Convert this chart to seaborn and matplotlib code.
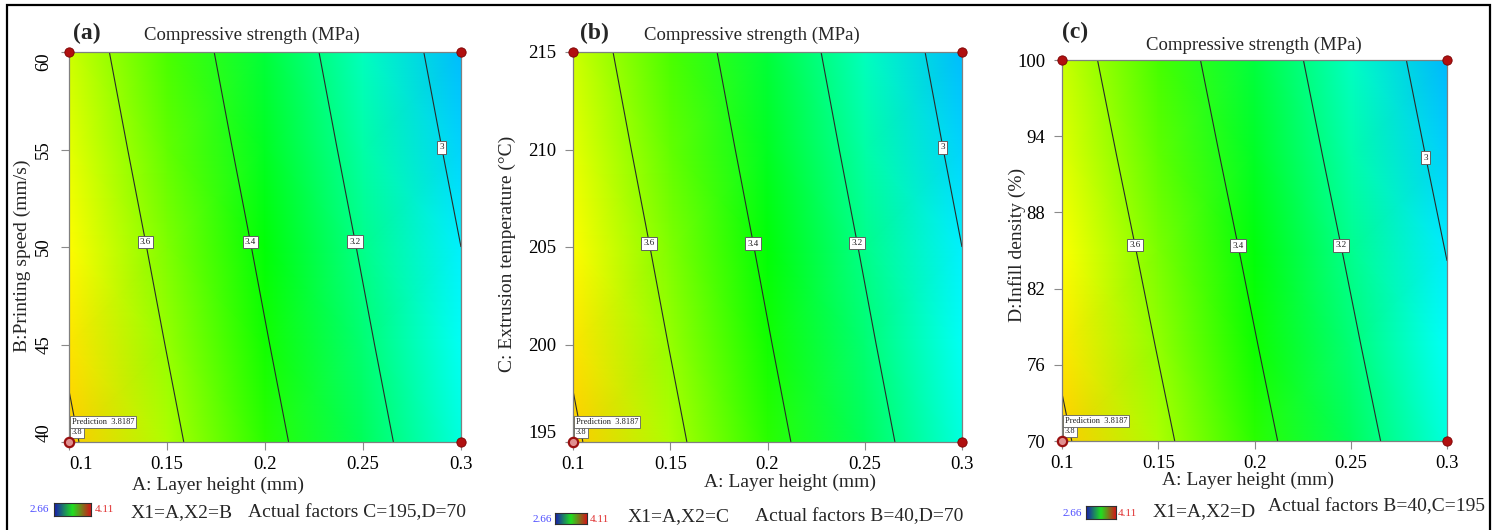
import numpy as np
import pandas as pd
import matplotlib
matplotlib.use("Agg")
import matplotlib.pyplot as plt
import seaborn as sns
from matplotlib.colors import LinearSegmentedColormap
from matplotlib.patches import Rectangle

# ---------------- data ----------------
layer_height = [0.10, 0.15, 0.20, 0.25, 0.30]          # A (mm)
printing_speed = [40, 45, 50, 55, 60]                  # B (mm/s)
extrusion_temp = [195, 200, 205, 210, 215]             # C (°C)
infill_density = [70, 77.5, 85, 92.5, 100]            # D (%)

# compressive strength (MPa); rows = second factor low->high, cols = layer height
strength_ab = [
    [3.819, 3.632, 3.445, 3.258, 3.071],
    [3.783, 3.596, 3.409, 3.222, 3.035],
    [3.748, 3.561, 3.374, 3.187, 3.000],
    [3.712, 3.525, 3.338, 3.151, 2.964],
    [3.677, 3.490, 3.303, 3.116, 2.929],
]
strength_ac = [
    [3.819, 3.632, 3.445, 3.258, 3.071],
    [3.783, 3.596, 3.409, 3.222, 3.035],
    [3.748, 3.561, 3.374, 3.187, 3.000],
    [3.712, 3.525, 3.338, 3.151, 2.964],
    [3.677, 3.490, 3.303, 3.116, 2.929],
]
strength_ad = [
    [3.819, 3.632, 3.445, 3.258, 3.071],
    [3.781, 3.594, 3.407, 3.220, 3.033],
    [3.744, 3.557, 3.370, 3.183, 2.996],
    [3.706, 3.519, 3.332, 3.145, 2.958],
    [3.669, 3.482, 3.295, 3.108, 2.921],
]

contour_levels = [3.0, 3.2, 3.4, 3.6]
contour_label_text = ["3", "3.2", "3.4", "3.6"]
corner_level = 3.8
prediction_value = 3.8187
scale_low, scale_high = 2.66, 4.11

x_ticks = [0.10, 0.15, 0.20, 0.25, 0.30]
x_tick_labels = ["0.1", "0.15", "0.2", "0.25", "0.3"]
yticks_b = [40, 45, 50, 55, 60]
yticks_c = [195, 200, 205, 210, 215]
yticks_d = [70, 76, 82, 88, 94, 100]

panel_tags = ["(a)", "(b)", "(c)"]
title_text = "Compressive strength (MPa)"
x_label = "A: Layer height (mm)"
y_labels = ["B:Printing speed (mm/s)", "C: Extrusion temperature (°C)", "D:Infill density (%)"]
factor_texts = ["X1=A,X2=B", "X1=A,X2=C", "X1=A,X2=D"]
actual_texts = ["Actual factors C=195,D=70", "Actual factors B=40,D=70", "Actual factors B=40,C=195"]

# ---------------- styling ----------------
sns.set_theme(style="white")
plt.rcParams["font.family"] = ["Liberation Serif", "DejaVu Serif"]

W, H = 1493, 530
fig = plt.figure(figsize=(W / 100, H / 100), dpi=100)
fig.patch.set_facecolor("white")


def fx(x):
    return x / W


def fy(y):
    return 1 - y / H


de_cmap = LinearSegmentedColormap.from_list(
    "designexpert",
    [(0.0, "#0000ff"), (0.25, "#00ffff"), (0.5, "#00ff00"), (0.75, "#ffff00"), (1.0, "#ff0000")],
)
legend_cmap = LinearSegmentedColormap.from_list("leg", ["#1a1ab0", "#20e020", "#d01818"])

panels = [
    dict(box=(69, 52, 461, 442), y=printing_speed, z=strength_ab, yt=yticks_b, rot=90,
         lab_pos=[(0.2898, 55.1), (0.2449, 50.26), (0.1929, 50.26), (0.1393, 50.26)],
         tag=(73, 33), title=(252, 35), xlab=(218, 485), ylab=(22, 256),
         bar=(54, 503, 91, 516), lo=(49, 510), hi=(95, 510),
         ftext=(131, 513), atext=(248, 513)),
    dict(box=(573, 52, 962, 442), y=extrusion_temp, z=strength_ac, yt=yticks_c, rot=0,
         lab_pos=[(0.290, 210.1), (0.241, 205.1), (0.1887, 205.1), (0.1349, 205.1)],
         tag=(580, 33), title=(752, 35), xlab=(790, 482), ylab=(507, 254),
         bar=(555, 513, 587, 524), lo=(552, 519), hi=(590, 519),
         ftext=(628, 517), atext=(755, 517)),
    dict(box=(1062, 60, 1447, 441), y=infill_density, z=strength_ad, yt=yticks_d, rot=0,
         lab_pos=[(0.2886, 92.3), (0.245, 85.4), (0.192, 85.4), (0.1374, 85.4)],
         tag=(1062, 32), title=(1254, 45), xlab=(1248, 480), ylab=(1017, 245),
         bar=(1086, 506, 1116, 519), lo=(1082, 513), hi=(1118, 513),
         ftext=(1153, 512), atext=(1268, 507)),
]

for i, p in enumerate(panels):
    l, t, r, b = p["box"]
    ax = fig.add_axes([fx(l), fy(b), (r - l) / W, (b - t) / H])
    X, Y = np.meshgrid(layer_height, p["y"])
    Z = np.array(p["z"])
    ax.pcolormesh(X, Y, Z, shading="gouraud", cmap=de_cmap, vmin=scale_low, vmax=scale_high)
    cs = ax.contour(X, Y, Z, levels=contour_levels + [corner_level], colors="#2a2a2a", linewidths=0.8)
    labels = ax.clabel(cs, levels=contour_levels, manual=p["lab_pos"], inline=False,
                       fontsize=6.5, fmt={lv: s for lv, s in zip(contour_levels, contour_label_text)})
    for tx in labels:
        tx.set_rotation(0)
        tx.set_color("#202020")
        tx.set_bbox(dict(boxstyle="square,pad=0.25", fc="white", ec="#606060", lw=0.7))

    ylo, yhi = p["y"][0], p["y"][-1]
    ax.set_xlim(layer_height[0], layer_height[-1])
    ax.set_ylim(ylo, yhi)

    # design points at corners
    pts = pd.DataFrame({"A": [layer_height[-1], layer_height[0], layer_height[-1]],
                        "Y": [ylo, yhi, yhi]})
    sns.scatterplot(data=pts, x="A", y="Y", ax=ax, color="#b01010", edgecolor="#7a0000",
                    s=45, linewidth=0.6, clip_on=False, zorder=6, legend=False)
    pred = pd.DataFrame({"A": [layer_height[0]], "Y": [ylo]})
    sns.scatterplot(data=pred, x="A", y="Y", ax=ax, color="#e09090", edgecolor="#9a1010",
                    s=45, linewidth=1.6, clip_on=False, zorder=7, legend=False)

    # prediction flag
    ax.text(0.007, 0.036, "3.8", transform=ax.transAxes, fontsize=6, va="top", ha="left",
            color="#202020", zorder=5,
            bbox=dict(boxstyle="square,pad=0.2", fc="white", ec="#606060", lw=0.6))
    ax.text(0.007, 0.042, f"Prediction  {prediction_value:.4f}", transform=ax.transAxes,
            fontsize=6, va="bottom", ha="left", color="#202020", zorder=8,
            bbox=dict(boxstyle="square,pad=0.25", fc="white", ec="#606060", lw=0.6))

    ax.set_xticks(x_ticks)
    ax.set_xticklabels(x_tick_labels)
    ax.set_yticks(p["yt"])
    ax.set_yticklabels([f"{v:g}" for v in p["yt"]])
    ax.set_xlabel("")
    ax.set_ylabel("")
    ax.tick_params(axis="both", direction="out", length=6, width=0.8, color="#8a8a8a",
                   labelsize=13.5, labelcolor="black", pad=4)
    ax.tick_params(axis="y", pad=6)
    ax.tick_params(left=True, bottom=True)
    if p["rot"] == 90:
        ax.tick_params(axis="y", labelrotation=90)
        ylabs = ax.get_yticklabels()
        for tl in ylabs:
            tl.set_va("center")
        ylabs[0].set_va("bottom")
        ylabs[-1].set_va("top")
        ax.get_xticklabels()[0].set_ha("left")
    elif i == 1:
        ax.get_yticklabels()[0].set_va("bottom")
    for sp in ax.spines.values():
        sp.set_color("#808080")
        sp.set_linewidth(0.9)
        sp.set_visible(True)

    # texts in figure pixel positions
    fig.text(fx(p["tag"][0]), fy(p["tag"][1]), panel_tags[i], fontsize=17, fontweight="bold",
             ha="left", va="center")
    fig.text(fx(p["title"][0]), fy(p["title"][1]), title_text, fontsize=13.5, ha="center", va="center")
    fig.text(fx(p["xlab"][0]), fy(p["xlab"][1]), x_label, fontsize=14, ha="center", va="center")
    fig.text(fx(p["ylab"][0]), fy(p["ylab"][1]), y_labels[i], fontsize=14, ha="center", va="center",
             rotation=90)

    # colour-scale legend
    bl, bt, br, bb = p["bar"]
    bax = fig.add_axes([fx(bl), fy(bb), (br - bl) / W, (bb - bt) / H])
    bax.imshow(np.linspace(0, 1, 64)[None, :], aspect="auto", cmap=legend_cmap)
    bax.set_xticks([])
    bax.set_yticks([])
    for sp in bax.spines.values():
        sp.set_color("#303030")
        sp.set_linewidth(0.8)
    fig.text(fx(p["lo"][0]), fy(p["lo"][1]), f"{scale_low:.2f}", fontsize=8, color="#4a4aff",
             ha="right", va="center")
    fig.text(fx(p["hi"][0]), fy(p["hi"][1]), f"{scale_high:.2f}", fontsize=8, color="#e03030",
             ha="left", va="center")
    fig.text(fx(p["ftext"][0]), fy(p["ftext"][1]), factor_texts[i], fontsize=14, ha="left", va="center")
    fig.text(fx(p["atext"][0]), fy(p["atext"][1]), actual_texts[i], fontsize=14, ha="left", va="center")

# outer frame
fig.patches.append(Rectangle((fx(7), fy(535)), (1490 - 7) / W, (535 - 5) / H, transform=fig.transFigure,
                             fill=False, edgecolor="black", linewidth=1.6, zorder=10))

fig.savefig("out.png", dpi=100, facecolor="white")
